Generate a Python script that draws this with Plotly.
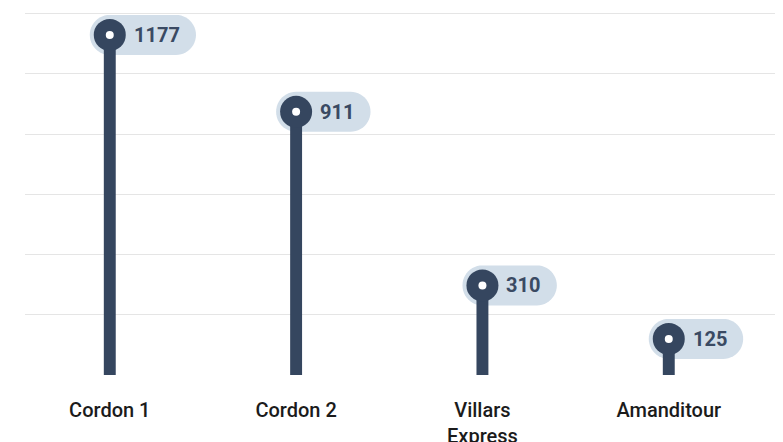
import math
import plotly.graph_objects as go

categories = ["Cordon 1", "Cordon 2", "Villars<br>Express", "Amanditour"]
values = [1177, 911, 310, 125]
value_labels = ["1177", "911", "310", "125"]

STEM = "#35465f"
PILL = "#d2dee9"
TEXT = "#3a4a63"


def pill_path(left, right, r, n=24):
    pts = []
    cx = right - r
    for k in range(n + 1):
        a = math.pi / 2 - math.pi * k / n
        pts.append((cx + r * math.cos(a), r * math.sin(a)))
    cx = left + r
    for k in range(n + 1):
        a = -math.pi / 2 - math.pi * k / n
        pts.append((cx + r * math.cos(a), r * math.sin(a)))
    return "M " + " L ".join(f"{x:.2f},{y:.2f}" for x, y in pts) + " Z"


fig = go.Figure()

fig.add_trace(go.Bar(x=categories, y=values, width=0.064,
                     marker=dict(color=STEM, line=dict(width=0)),
                     hoverinfo="skip"))
fig.add_trace(go.Scatter(x=categories, y=values, mode="markers",
                         marker=dict(size=32, color=STEM, line=dict(width=0)),
                         cliponaxis=False, hoverinfo="skip"))
fig.add_trace(go.Scatter(x=categories, y=values, mode="markers",
                         marker=dict(size=8, color="white", line=dict(width=0)),
                         cliponaxis=False, hoverinfo="skip"))

shapes = []
annotations = []
for c, v, t in zip(categories, values, value_labels):
    right = 25 + 11.8 * len(t) + 14
    shapes.append(dict(type="path", xref="x", yref="y",
                       xsizemode="pixel", ysizemode="pixel",
                       xanchor=c, yanchor=v, path=pill_path(-20, right, 20),
                       fillcolor=PILL, line=dict(width=0), layer="between"))
    annotations.append(dict(x=c, y=v, xref="x", yref="y", text=t,
                            showarrow=False, xanchor="left", yanchor="middle",
                            xshift=22, yshift=0,
                            font=dict(family="Roboto", size=20, color=TEXT, weight="bold")))

fig.update_layout(
    width=783, height=442,
    margin=dict(l=17, r=0, t=0, b=75),
    paper_bgcolor="white", plot_bgcolor="white",
    showlegend=False,
    shapes=shapes, annotations=annotations,
    xaxis=dict(type="category", range=[-0.455, 3.656], showgrid=False,
               zeroline=False, showline=False, automargin=False,
               ticks="outside", ticklen=17, tickcolor="rgba(0,0,0,0)",
               tickfont=dict(family="Roboto", size=20, color="#1b1b1b", weight=500)),
    yaxis=dict(range=[0, 1270.1], tick0=0, dtick=208.5, showgrid=True,
               gridcolor="#e5e5e5", gridwidth=1, zeroline=False, automargin=False,
               showticklabels=False, showline=False),
)

fig.write_html("out.html")
